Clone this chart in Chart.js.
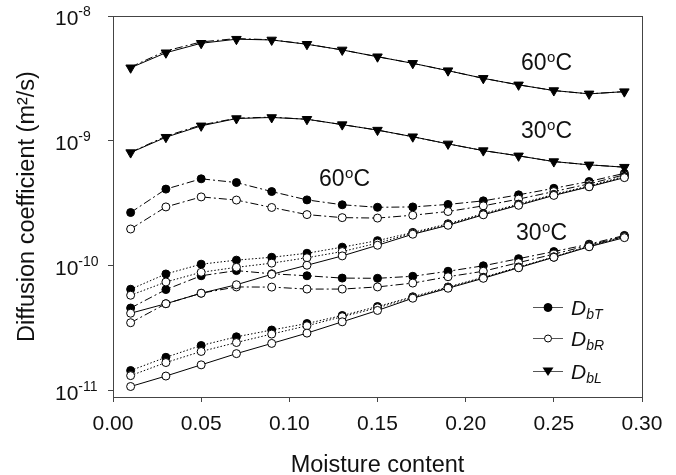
<!DOCTYPE html>
<html>
<head>
<meta charset="utf-8">
<script src="https://cdn.jsdelivr.net/npm/chart.js@4.4.1/dist/chart.umd.min.js"></script>
<style>
  body { margin: 0; background: #fff; }
  #wrap { width: 676px; height: 475px; }
</style>
</head>
<body>
<div id="wrap"><canvas id="diffChart" width="676" height="475"></canvas></div>
<script>
// --- data ---
const moisture = [0.01, 0.03, 0.05, 0.07, 0.09, 0.11, 0.13, 0.15, 0.17, 0.19, 0.21, 0.23, 0.25, 0.27, 0.29];
const xTickValues = [0, 0.05, 0.10, 0.15, 0.20, 0.25, 0.30];
const yTickValues = [1e-11, 1e-10, 1e-9, 1e-8];
const yTickExponents = ['-11', '-10', '-9', '-8'];

// 60 C
const dbL60 = [3.85e-9, 5.08e-9, 6.05e-9, 6.52e-9, 6.43e-9, 5.94e-9, 5.35e-9, 4.72e-9, 4.18e-9, 3.65e-9, 3.17e-9, 2.81e-9, 2.53e-9, 2.38e-9, 2.48e-9];
const dbL60dashdot = [3.9e-9, 5.25e-9, 6.2e-9, 6.6e-9, 6.45e-9, 5.95e-9, 5.35e-9, 4.72e-9, 4.18e-9, 3.65e-9, 3.17e-9, 2.81e-9, 2.53e-9, 2.38e-9, 2.48e-9];
const dbT60dashdot = [2.67e-10, 4.11e-10, 4.97e-10, 4.64e-10, 3.93e-10, 3.37e-10, 3.08e-10, 2.94e-10, 2.96e-10, 3.10e-10, 3.31e-10, 3.70e-10, 4.17e-10, 4.73e-10, 5.50e-10];
const dbR60dashdot = [1.97e-10, 2.96e-10, 3.56e-10, 3.36e-10, 2.93e-10, 2.57e-10, 2.43e-10, 2.41e-10, 2.54e-10, 2.72e-10, 3.02e-10, 3.42e-10, 3.93e-10, 4.53e-10, 5.35e-10];
const dbT60dotted = [6.49e-11, 8.60e-11, 1.03e-10, 1.11e-10, 1.17e-10, 1.26e-10, 1.41e-10, 1.59e-10, 1.85e-10, 2.17e-10, 2.62e-10, 3.12e-10, 3.73e-10, 4.37e-10, 5.20e-10];
const dbR60dotted = [5.81e-11, 7.42e-11, 8.87e-11, 9.72e-11, 1.05e-10, 1.16e-10, 1.30e-10, 1.52e-10, 1.82e-10, 2.14e-10, 2.58e-10, 3.08e-10, 3.70e-10, 4.31e-10, 5.15e-10];
const dbR60solid = [4.17e-11, 4.97e-11, 6.03e-11, 7.05e-11, 8.55e-11, 1.01e-10, 1.20e-10, 1.46e-10, 1.79e-10, 2.11e-10, 2.56e-10, 3.05e-10, 3.66e-10, 4.29e-10, 5.08e-10];

// 30 C
const dbL30 = [8.06e-10, 1.07e-9, 1.32e-9, 1.51e-9, 1.54e-9, 1.49e-9, 1.35e-9, 1.22e-9, 1.08e-9, 9.46e-10, 8.36e-10, 7.59e-10, 6.83e-10, 6.43e-10, 6.16e-10];
const dbL30dashdot = [8.1e-10, 1.09e-9, 1.34e-9, 1.52e-9, 1.55e-9, 1.49e-9, 1.35e-9, 1.22e-9, 1.08e-9, 9.46e-10, 8.36e-10, 7.59e-10, 6.83e-10, 6.43e-10, 6.16e-10];
const dbT30dashdot = [4.59e-11, 6.45e-11, 8.32e-11, 9.15e-11, 8.63e-11, 8.32e-11, 7.97e-11, 7.94e-11, 8.24e-11, 9.04e-11, 1.00e-10, 1.14e-10, 1.30e-10, 1.49e-10, 1.75e-10];
const dbR30dashdot = [3.50e-11, 4.97e-11, 6.03e-11, 6.77e-11, 6.75e-11, 6.51e-11, 6.51e-11, 6.77e-11, 7.27e-11, 8.17e-11, 9.04e-11, 1.06e-10, 1.24e-10, 1.46e-10, 1.72e-10];
const dbT30dotted = [1.45e-11, 1.85e-11, 2.30e-11, 2.70e-11, 3.06e-11, 3.45e-11, 4.00e-11, 4.72e-11, 5.65e-11, 6.77e-11, 8.09e-11, 9.78e-11, 1.18e-10, 1.44e-10, 1.72e-10];
const dbR30dotted = [1.32e-11, 1.68e-11, 2.06e-11, 2.43e-11, 2.84e-11, 3.31e-11, 3.91e-11, 4.61e-11, 5.57e-11, 6.69e-11, 8.02e-11, 9.69e-11, 1.17e-10, 1.43e-10, 1.71e-10];
const dbR30solid = [1.08e-11, 1.31e-11, 1.61e-11, 1.98e-11, 2.39e-11, 2.89e-11, 3.56e-11, 4.39e-11, 5.50e-11, 6.61e-11, 7.94e-11, 9.64e-11, 1.17e-10, 1.42e-10, 1.68e-10];

const FONT = "'Liberation Sans', Arial, sans-serif";
const DASH_DOT = [8, 3, 2, 3];
const DOTTED = [1.5, 2];

function toPoints(ys) {
    return ys.map((y, i) => ({ x: moisture[i], y: y }));
}

// marker: 'filled', 'open', 'tri', 'none'
function series(label, ys, dash, marker, order) {
    const ds = {
        label: label,
        data: toPoints(ys),
        borderColor: '#000',
        borderWidth: 1,
        borderDash: dash,
        pointBorderColor: '#000',
        pointBorderWidth: 1,
        pointRadius: 4,
        pointStyle: 'circle',
        pointBackgroundColor: '#000',
        tension: 0,
        fill: false,
        order: order
    };
    if (marker === 'open') ds.pointBackgroundColor = '#fff';
    if (marker === 'tri') {
        ds.pointStyle = 'triangle';
        ds.pointRotation = 180;
        ds.pointRadius = 5.5;
    }
    if (marker === 'none') ds.pointRadius = 0;
    return ds;
}

const datasets = [
    series('DbL 60 dash-dot', dbL60dashdot, DASH_DOT, 'none', 3),
    series('DbL 60', dbL60, [], 'tri', 0),
    series('DbL 30 dash-dot', dbL30dashdot, DASH_DOT, 'none', 3),
    series('DbL 30', dbL30, [], 'tri', 0),
    series('DbT 60 dash-dot', dbT60dashdot, DASH_DOT, 'filled', 5),
    series('DbR 60 dash-dot', dbR60dashdot, DASH_DOT, 'open', 4),
    series('DbT 60 dotted', dbT60dotted, DOTTED, 'filled', 3),
    series('DbR 60 dotted', dbR60dotted, DOTTED, 'open', 2),
    series('DbR 60 solid', dbR60solid, [], 'open', 1),
    series('DbT 30 dash-dot', dbT30dashdot, DASH_DOT, 'filled', 5),
    series('DbR 30 dash-dot', dbR30dashdot, DASH_DOT, 'open', 4),
    series('DbT 30 dotted', dbT30dotted, DOTTED, 'filled', 3),
    series('DbR 30 dotted', dbR30dotted, DOTTED, 'open', 2),
    series('DbR 30 solid', dbR30solid, [], 'open', 1)
];

// frame, superscript tick labels, curve labels and legend
const annotations = {
    id: 'annotations',
    afterDraw(chart) {
        const ctx = chart.ctx;
        const area = chart.chartArea;
        const yScale = chart.scales.y;
        ctx.save();

        ctx.strokeStyle = '#444';
        ctx.lineWidth = 1;
        ctx.strokeRect(area.left + 0.5, area.top + 0.5, area.right - area.left, area.bottom - area.top);

        // y tick labels 10^n
        ctx.fillStyle = '#111';
        ctx.textAlign = 'left';
        ctx.textBaseline = 'alphabetic';
        yTickValues.forEach((v, i) => {
            const py = yScale.getPixelForValue(v);
            ctx.font = '21px ' + FONT;
            ctx.fillText('10', 55, py + 9);
            const w = ctx.measureText('10').width;
            ctx.font = '14px ' + FONT;
            ctx.fillText(yTickExponents[i], 55 + w, py + 0);
        });

        // temperature labels
        const tempLabel = (txt, x, base) => {
            ctx.font = '23px ' + FONT;
            ctx.fillText(txt, x, base);
            let w = ctx.measureText(txt).width;
            ctx.font = '15px ' + FONT;
            ctx.fillText('o', x + w + 0.5, base - 8.5);
            w += ctx.measureText('o').width + 0.5;
            ctx.font = '23px ' + FONT;
            ctx.fillText('C', x + w, base);
        };
        tempLabel('60', 521, 70);
        tempLabel('30', 521, 138);
        tempLabel('60', 319, 186);
        tempLabel('30', 516, 240);

        // legend
        const legendRows = [
            { y: 307, marker: 'filled', sub: 'bT' },
            { y: 338, marker: 'open', sub: 'bR' },
            { y: 371, marker: 'tri', sub: 'bL' }
        ];
        legendRows.forEach(r => {
            ctx.strokeStyle = '#555';
            ctx.lineWidth = 1;
            ctx.beginPath();
            ctx.moveTo(533, r.y + 0.5);
            ctx.lineTo(563, r.y + 0.5);
            ctx.stroke();
            ctx.strokeStyle = '#000';
            ctx.beginPath();
            if (r.marker === 'tri') {
                ctx.moveTo(542.5, r.y - 3.5);
                ctx.lineTo(553.5, r.y - 3.5);
                ctx.lineTo(548, r.y + 5);
                ctx.closePath();
                ctx.fillStyle = '#000';
                ctx.fill();
            } else {
                const rad = r.marker === 'filled' ? 4 : 3.5;
                ctx.arc(548, r.y + 0.5, rad, 0, Math.PI * 2);
                ctx.fillStyle = r.marker === 'filled' ? '#000' : '#fff';
                ctx.fill();
                ctx.stroke();
            }
            ctx.fillStyle = '#111';
            ctx.font = 'italic 21px ' + FONT;
            ctx.fillText('D', 571, r.y + 7.5);
            const w = ctx.measureText('D').width;
            ctx.font = 'italic 14px ' + FONT;
            ctx.fillText(r.sub, 571 + w, r.y + 12);
        });

        ctx.restore();
    }
};

new Chart(document.getElementById('diffChart'), {
    type: 'line',
    data: { datasets: datasets },
    options: {
        responsive: false,
        animation: false,
        devicePixelRatio: 1,
        layout: { padding: { top: 16, right: 34, left: 0, bottom: 0 } },
        plugins: {
            legend: { display: false },
            tooltip: { enabled: false }
        },
        scales: {
            x: {
                type: 'linear',
                min: 0,
                max: 0.3,
                afterFit: (s) => { s.height = 78; },
                afterBuildTicks: (s) => { s.ticks = xTickValues.map(v => ({ value: v })); },
                border: { display: true, color: '#444' },
                grid: { display: true, drawOnChartArea: false, drawTicks: true, tickLength: 5, color: '#444' },
                ticks: {
                    padding: 10,
                    color: '#111',
                    font: { family: FONT, size: 21 },
                    callback: (v) => Number(v).toFixed(2)
                },
                title: {
                    display: true,
                    text: 'Moisture content',
                    color: '#111',
                    font: { family: FONT, size: 23.5, lineHeight: 0.8 },
                    padding: { top: 0, bottom: 0 }
                }
            },
            y: {
                type: 'logarithmic',
                min: 8.9e-12,
                max: 1e-8,
                afterFit: (s) => { s.width = 113; },
                afterBuildTicks: (s) => { s.ticks = yTickValues.map(v => ({ value: v })); },
                border: { display: true, color: '#444' },
                grid: { display: true, drawOnChartArea: false, drawTicks: true, tickLength: 5, color: '#444' },
                ticks: { callback: () => '' },
                title: {
                    display: true,
                    text: 'Diffusion coefficient (m\u00b2/s)',
                    color: '#111',
                    font: { family: FONT, size: 23.5 },
                    padding: { top: 13, bottom: 0 }
                }
            }
        }
    },
    plugins: [annotations]
});
</script>
</body>
</html>
